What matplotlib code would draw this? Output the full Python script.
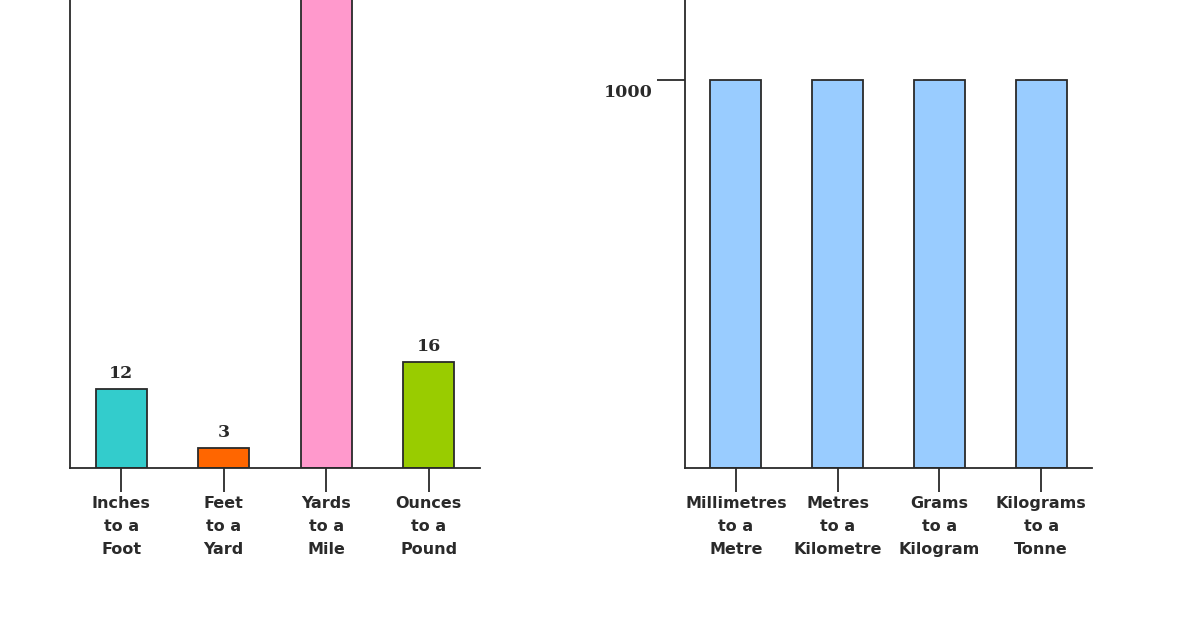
import numpy as np
import matplotlib
matplotlib.use("Agg")
from matplotlib import pyplot as plt
from matplotlib import transforms

imperial_labels = ["Inches\nto a\nFoot", "Feet\nto a\nYard", "Yards\nto a\nMile", "Ounces\nto a\nPound"]
imperial_values = [12, 3, 1760, 16]
imperial_colors = ["#33CCCC", "#FF6600", "#FF99CC", "#99CC00"]
imperial_shown = [True, True, False, True]

metric_labels = ["Millimetres\nto a\nMetre", "Metres\nto a\nKilometre", "Grams\nto a\nKilogram", "Kilograms\nto a\nTonne"]
metric_values = [1000, 1000, 1000, 1000]
metric_color = "#99CCFF"

ink = "#2a2a2a"
plt.rcParams['font.family'] = ['DejaVu Sans']
num_font = dict(family="DejaVu Serif", fontweight="bold", fontsize=12.5, color=ink)

fig = plt.figure(figsize=(12, 6.3), dpi=100)
ax1 = fig.add_axes([70/1200, 162/630, 410/1200, 468/630])
ax2 = fig.add_axes([685/1200, 162/630, 407/1200, 468/630])

def style(ax, labels):
    for s in ["top", "right"]:
        ax.spines[s].set_visible(False)
    for s in ["left", "bottom"]:
        ax.spines[s].set_color(ink)
        ax.spines[s].set_linewidth(1.3)
    ax.set_xlim(-0.5, 3.5)
    ax.set_xticks(np.arange(len(labels)))
    ax.set_xticklabels(labels, fontsize=11.5, fontweight="bold", color=ink, linespacing=1.68)
    ax.tick_params(axis="x", length=17, width=1.3, color=ink, pad=3)

x = np.arange(4)

# imperial
ax1.bar(x, imperial_values, width=0.5, color=imperial_colors, edgecolor=ink, linewidth=1.3)
ax1.set_ylim(0, 70.7)
style(ax1, imperial_labels)
ax1.set_yticks([])
for xi, v, show in zip(x, imperial_values, imperial_shown):
    if show:
        ax1.annotate(str(v), (xi, v), xytext=(0, 5), textcoords="offset points",
                     ha="center", va="bottom", **num_font)

# metric
ax2.bar(x, metric_values, width=0.5, color=metric_color, edgecolor=ink, linewidth=1.3)
ax2.set_ylim(0, 1206)
style(ax2, metric_labels)
ax2.set_yticks([1000])
ax2.set_yticklabels(["1000"], va="top", **num_font)
ax2.tick_params(axis="y", length=20, width=1.3, color=ink, pad=3.5)
shift = transforms.ScaledTranslation(0, -3/72, fig.dpi_scale_trans)
for lab in ax2.get_yticklabels():
    lab.set_transform(lab.get_transform() + shift)

fig.savefig("out.png", dpi=100)
